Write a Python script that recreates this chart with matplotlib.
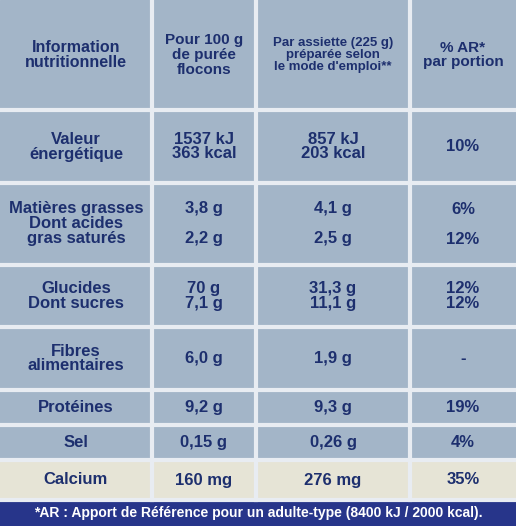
import matplotlib
matplotlib.use("Agg")
import matplotlib.pyplot as plt
from matplotlib.patches import Rectangle

plt.rcParams['font.family'] = ['Liberation Sans', 'DejaVu Sans']

headers = ["Information\nnutritionnelle", "Pour 100 g\nde purée\nflocons",
           "Par assiette (225 g)\npréparée selon\nle mode d'emploi**", "% AR*\npar portion"]
row_labels = ["Valeur\nénergétique", "Matières grasses\nDont acides\ngras saturés",
              "Glucides\nDont sucres", "Fibres\nalimentaires", "Protéines", "Sel", "Calcium"]
per_100g = ["1537 kJ\n363 kcal", "3,8 g\n\n2,2 g", "70 g\n7,1 g", "6,0 g", "9,2 g", "0,15 g", "160 mg"]
per_plate = ["857 kJ\n203 kcal", "4,1 g\n\n2,5 g", "31,3 g\n11,1 g", "1,9 g", "9,3 g", "0,26 g", "276 mg"]
ar_pct = ["10%", "6%\n\n12%", "12%\n12%", "-", "19%", "4%", "35%"]
footnote = "*AR : Apport de Référence pour un adulte-type (8400 kJ / 2000 kcal)."

col_edges = [0, 152, 256, 410, 516]
row_edges = [0, 110, 183, 265, 327, 390, 425, 460, 500]

fig = plt.figure(figsize=(5.16, 5.26), dpi=100)
ax = fig.add_axes([0, 0, 1, 1])
ax.set_xlim(0, 516)
ax.set_ylim(526, 0)
ax.axis("off")

bg = "#a3b5c8"
navy = "#1d2f6e"
ax.add_patch(Rectangle((0, 0), 516, 526, color=bg))
ax.add_patch(Rectangle((0, 460), 516, 40, color="#e6e4d6"))
ax.add_patch(Rectangle((0, 500), 516, 26, color="#27358a"))

for x in col_edges[1:-1]:
    ax.plot([x, x], [0, 500], color="#e8ecf2", lw=3)
for y in row_edges[1:]:
    ax.plot([0, 516], [y, y], color="#e8ecf2", lw=3)

centers = [(col_edges[i] + col_edges[i + 1]) / 2 for i in range(4)]
head_sizes = [11.5, 11, 9.5, 11]
for i, h in enumerate(headers):
    ax.text(centers[i], 55, h, ha="center", va="center", color=navy,
            fontsize=head_sizes[i], fontweight="bold", linespacing=1.05)

for r in range(len(row_labels)):
    yc = (row_edges[r + 1] + row_edges[r + 2]) / 2
    for c, col in enumerate([row_labels, per_100g, per_plate, ar_pct]):
        ax.text(centers[c], yc, col[r], ha="center", va="center", color=navy,
                fontsize=12, fontweight="bold", linespacing=1.0)

ax.text(258, 513, footnote, ha="center", va="center", color="white", fontsize=10, fontweight="bold")
fig.savefig("out.png", dpi=100)
